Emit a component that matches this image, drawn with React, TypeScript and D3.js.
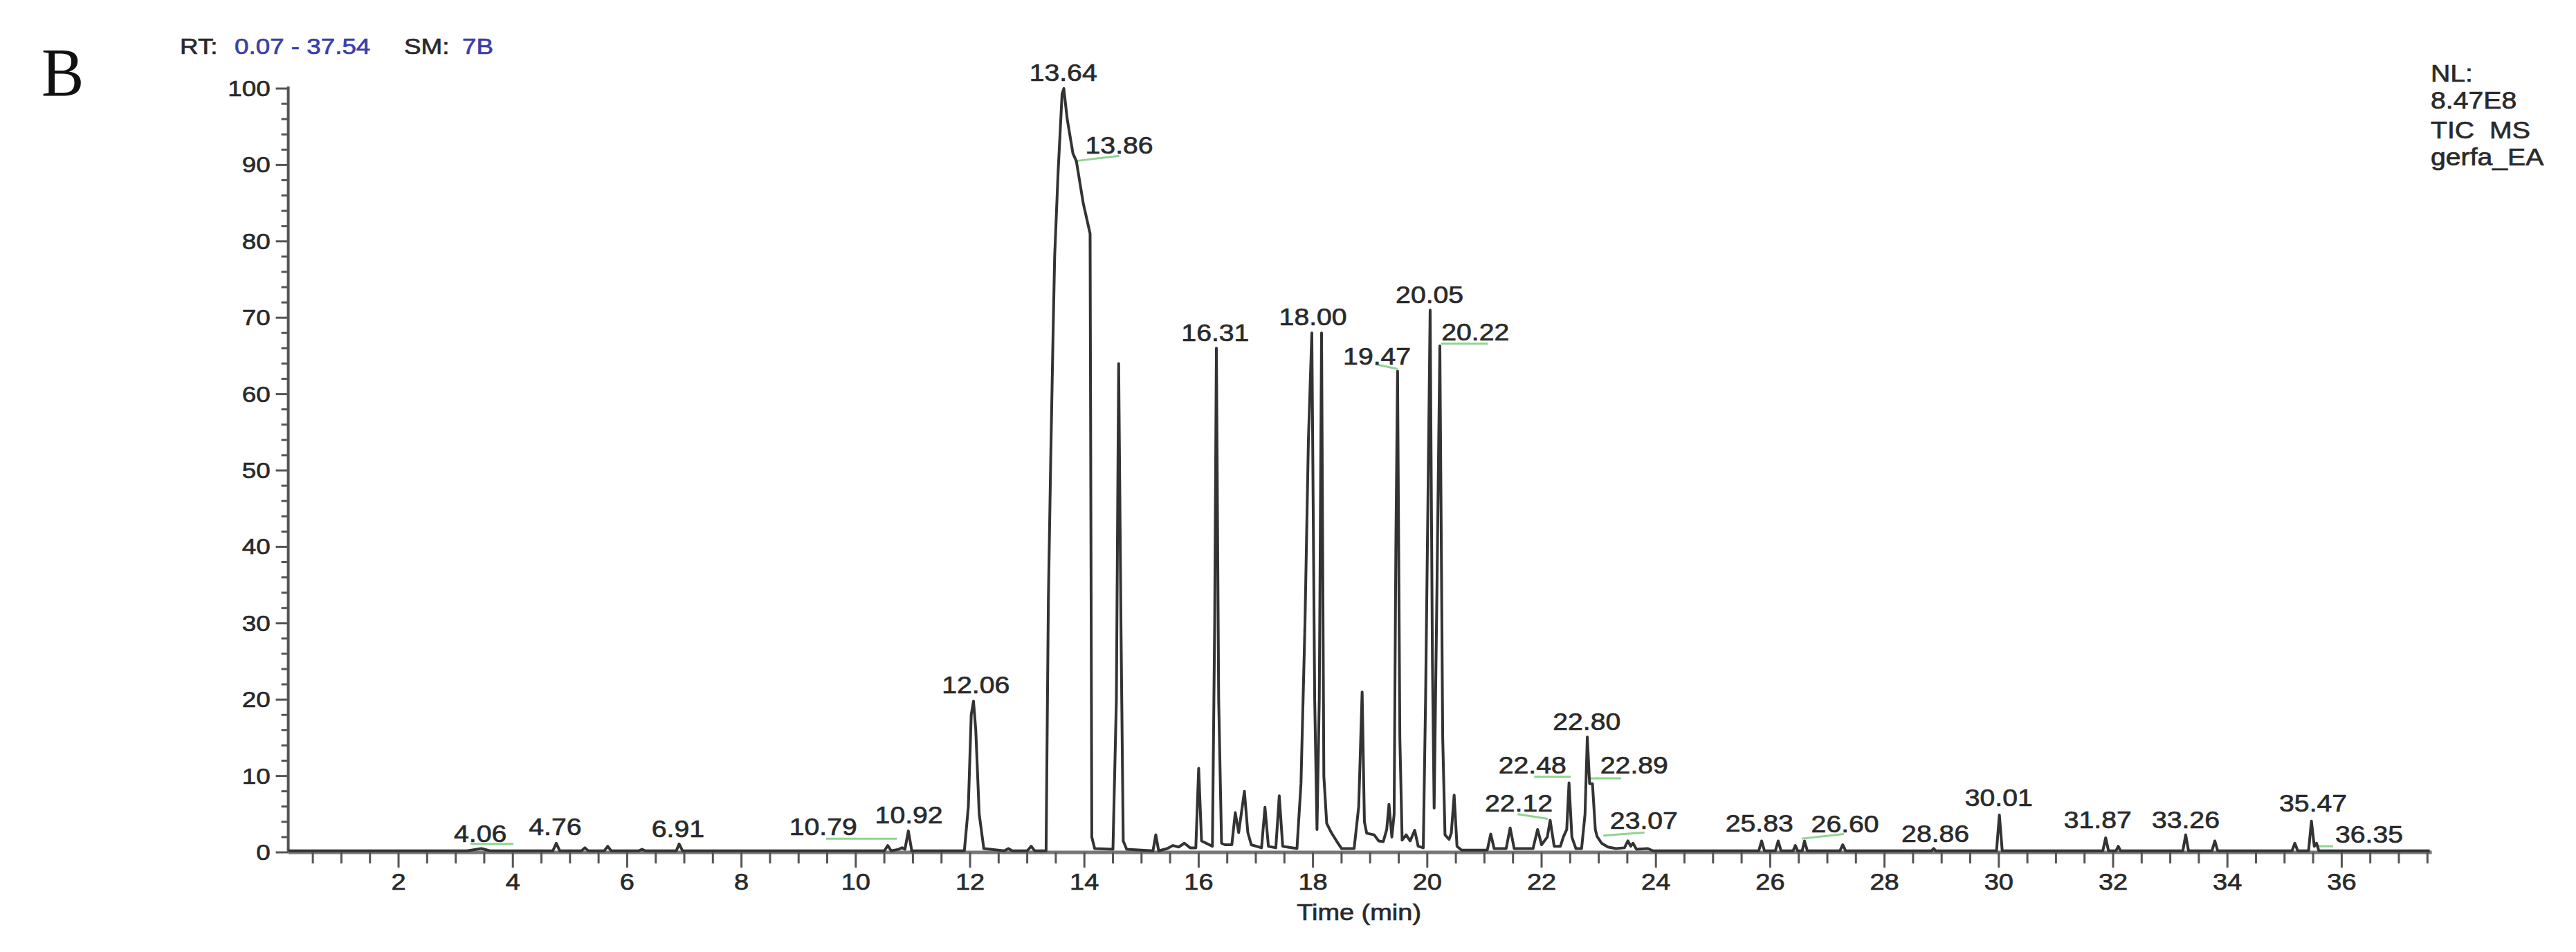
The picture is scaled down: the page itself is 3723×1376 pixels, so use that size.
import React from "react";
import * as d3 from "d3";

// ---------------- DATA ----------------
const rtRange: [number, number] = [0.07, 37.54];
const yTickValues = [0, 10, 20, 30, 40, 50, 60, 70, 80, 90, 100];
const xTickLabels = [2, 4, 6, 8, 10, 12, 14, 16, 18, 20, 22, 24, 26, 28, 30, 32, 34, 36];

// TIC trace: [retention time (min), relative abundance (%)]
const traceEarly: [number, number][] = [
  [0.07, 0.2], [3.2, 0.2], [3.45, 0.5], [3.6, 0.2], [4.7, 0.2], [4.76, 1.2], [4.82, 0.2],
  [5.2, 0.2], [5.26, 0.6], [5.32, 0.2], [5.6, 0.2], [5.66, 0.8], [5.72, 0.2],
  [6.2, 0.2], [6.26, 0.4], [6.32, 0.2], [6.86, 0.2], [6.91, 1.1], [6.97, 0.2],
  [10.5, 0.2], [10.56, 0.9], [10.62, 0.2], [10.75, 0.4], [10.81, 0.6], [10.86, 0.4],
  [10.92, 2.8], [10.98, 0.2],
];
const traceMain: [number, number][] = [
  [11.9, 0.2], [11.97, 6], [12.02, 18], [12.06, 19.8], [12.1, 16], [12.16, 5], [12.24, 0.5],
  [12.6, 0.2], [12.67, 0.5], [12.74, 0.2], [13.0, 0.2], [13.07, 0.8], [13.13, 0.2],
  [13.33, 0.2], [13.37, 33], [13.41, 51], [13.45, 67], [13.48, 78], [13.54, 89],
  [13.61, 99.3], [13.64, 100], [13.7, 96], [13.8, 91.5], [13.86, 90.5], [13.98, 85],
  [14.1, 81], [14.13, 2], [14.18, 0.5],
  [14.5, 0.4], [14.56, 20], [14.6, 64], [14.64, 30], [14.68, 1.5], [14.74, 0.4],
  [15.2, 0.2], [15.25, 2.3], [15.3, 0.2], [15.45, 0.5], [15.55, 0.9], [15.65, 0.7],
  [15.75, 1.2], [15.85, 0.6], [15.95, 0.6], [16.0, 11], [16.05, 1.5],
  [16.24, 0.8], [16.28, 30], [16.31, 66], [16.35, 20], [16.4, 1.2], [16.46, 1.0],
  [16.58, 1.0], [16.64, 5.2], [16.7, 2.6], [16.8, 8], [16.86, 2.6], [16.92, 1.0],
  [17.1, 0.6], [17.16, 5.9], [17.22, 0.8], [17.35, 0.6], [17.41, 7.4], [17.47, 0.8],
  [17.72, 0.5], [17.79, 9], [17.86, 30], [17.92, 54], [17.98, 68], [18.03, 20],
  [18.07, 3], [18.11, 20], [18.15, 68], [18.19, 10], [18.24, 3.8], [18.32, 2.6],
  [18.42, 1.4], [18.5, 0.5],
];
const traceLate: [number, number][] = [
  [18.72, 0.5], [18.8, 6], [18.86, 21], [18.9, 4], [18.94, 2.5], [19.07, 2.3],
  [19.15, 1.5], [19.23, 1.4], [19.29, 3], [19.33, 6.3], [19.38, 2], [19.42, 5],
  [19.45, 40], [19.48, 63], [19.52, 15], [19.56, 1.6], [19.63, 2.3], [19.7, 1.5],
  [19.78, 2.9], [19.84, 0.8], [19.93, 0.6], [19.97, 20], [20.01, 45], [20.05, 71],
  [20.09, 25], [20.12, 5.8], [20.17, 35], [20.22, 66.3], [20.27, 15], [20.31, 2.3],
  [20.38, 1.7], [20.42, 2.5], [20.47, 7.5], [20.52, 0.8], [20.6, 0.3],
  [21.05, 0.3], [21.11, 2.4], [21.17, 0.5], [21.38, 0.5], [21.45, 3.2], [21.52, 0.5],
  [21.85, 0.5], [21.93, 3.0], [22.0, 1.0], [22.1, 2.0], [22.15, 4.2], [22.22, 0.8],
  [22.33, 0.8], [22.38, 2.0], [22.44, 3], [22.48, 9.1], [22.53, 2], [22.6, 0.5],
  [22.7, 0.5], [22.76, 5], [22.8, 15.1], [22.84, 9], [22.89, 9], [22.94, 3],
  [22.97, 2.1], [23.05, 1.2], [23.16, 0.7], [23.3, 0.5], [23.45, 0.6], [23.51, 1.5],
  [23.56, 0.8], [23.6, 1.2], [23.66, 0.4], [23.86, 0.5], [23.95, 0.2],
  [25.8, 0.2], [25.85, 1.5], [25.9, 0.2], [26.09, 0.2], [26.14, 1.5], [26.19, 0.2],
  [26.4, 0.2], [26.44, 0.9], [26.48, 0.2], [26.56, 0.2], [26.6, 1.5], [26.65, 0.2],
  [27.22, 0.2], [27.27, 1.0], [27.32, 0.2], [28.82, 0.2], [28.86, 0.5], [28.9, 0.2],
  [29.96, 0.2], [30.01, 4.9], [30.06, 0.2], [31.82, 0.2], [31.87, 1.9], [31.92, 0.2],
  [32.05, 0.2], [32.09, 0.8], [32.13, 0.2], [33.22, 0.2], [33.27, 2.3], [33.32, 0.2],
  [33.73, 0.2], [33.78, 1.5], [33.83, 0.2], [35.13, 0.2], [35.18, 1.2], [35.23, 0.2],
  [35.42, 0.2], [35.47, 4.1], [35.52, 0.8], [35.56, 1.2], [35.6, 0.2], [37.54, 0.2],
];

// Peak annotations: label text, anchor time, anchor level (baseline of text)
const peakLabels = ["4.06", "4.76", "6.91", "10.79", "10.92", "12.06", "13.64", "13.86", "16.31",
  "18.00", "19.47", "20.05", "20.22", "22.12", "22.48", "22.80", "22.89", "23.07", "25.83",
  "26.60", "28.86", "30.01", "31.87", "33.26", "35.47", "36.35"];
const peakLabelTime = [3.43, 4.74, 6.89, 9.43, 10.93, 12.1, 13.63, 14.61, 16.29,
  18.0, 19.12, 20.04, 20.84, 21.6, 21.84, 22.79, 23.62, 23.79, 25.81,
  27.31, 28.89, 30.0, 31.73, 33.27, 35.5, 36.48];
const peakLabelLevel = [1.4, 2.3, 2.0, 2.3, 3.8, 20.8, 101, 91.5, 66.9,
  69.0, 63.9, 71.9, 67.0, 5.3, 10.3, 16.0, 10.3, 3.1, 2.7,
  2.6, 1.4, 6.1, 3.2, 3.2, 5.3, 1.3];

// Green connector lines between labels and peaks
const connFromTime = [3.26, 9.48, 13.83, 19.09, 20.24, 21.58, 21.87, 22.85, 23.08, 26.55, 35.52];
const connFromLevel = [1.1, 1.8, 90.5, 63.9, 66.6, 5.0, 9.9, 9.7, 2.2, 1.8, 0.8];
const connToTime = [4.01, 10.72, 14.61, 19.48, 21.06, 22.11, 22.51, 23.39, 23.8, 27.29, 35.85];
const connToLevel = [1.1, 1.8, 91.2, 63.3, 66.6, 4.4, 9.9, 9.7, 2.6, 2.4, 0.8];

// ---------------- CHART ----------------
const SANS = "'Liberation Sans', Arial, Helvetica, sans-serif";
const SERIF = "'Liberation Serif', 'Times New Roman', serif";

type TP = { x: number; y: number; size?: number; sx?: number; anchor?: string; fill?: string; family?: string; sw?: number; children: React.ReactNode };
const Txt = ({ x, y, size = 34, sx = 1.15, anchor = "start", fill = "#2a2a2a", family = SANS, sw = 0.7, children }: TP) => (
  <text transform={`translate(${x},${y}) scale(${sx},1)`} fontSize={size} textAnchor={anchor as any}
    fill={fill} stroke={fill} strokeWidth={sw} fontFamily={family}>{children}</text>
);

export default function App() {
  const W = 3723, H = 1376;
  const x = d3.scaleLinear().domain(rtRange).range([416.6, 3511.6]);
  const y = d3.scaleLinear().domain([0, 100]).range([1232, 128]);
  const line = d3.line<[number, number]>().x(d => x(d[0])).y(d => y(d[1]));
  const trace = [...traceEarly, ...traceMain, ...traceLate];

  const minorX = d3.range(0.5, 37.51, 0.5).filter(t => Math.abs(t / 2 - Math.round(t / 2)) > 1e-6);
  const minorY = d3.range(0, 100.1, 2).filter(v => v % 10 !== 0);
  const x0 = x(rtRange[0]);
  const blue = "#3b3fa8";

  return (
    <svg width={W} height={H} style={{ position: "absolute", left: 0, top: 0, background: "#fff" }}>
      <rect width={W} height={H} fill="#fff" />
      {/* panel letter */}
      <Txt x={60} y={138} size={100} sx={0.92} family={SERIF} fill="#111" sw={0}>B</Txt>
      {/* header */}
      <Txt x={260} y={78} size={32}>RT:</Txt>
      <Txt x={339} y={78} size={32} fill={blue}>0.07 - 37.54</Txt>
      <Txt x={584} y={78} size={32}>SM:</Txt>
      <Txt x={668} y={78} size={32} fill={blue}>7B</Txt>
      {/* NL block */}
      <Txt x={3513} y={118} size={35} sx={1.12}>NL:</Txt>
      <Txt x={3513} y={157} size={35} sx={1.12}>8.47E8</Txt>
      <Txt x={3513} y={200} size={35} sx={1.12}>TIC</Txt>
      <Txt x={3598} y={200} size={35} sx={1.12}>MS</Txt>
      <Txt x={3513} y={239} size={35} sx={1.12}>gerfa_EA</Txt>

      {/* y axis */}
      <line x1={x0} x2={x0} y1={y(100) - 3} y2={y(0)} stroke="#555" strokeWidth={4} />
      {yTickValues.map(v => (
        <g key={"yt" + v}>
          <line x1={x0 - 18} x2={x0} y1={y(v)} y2={y(v)} stroke="#555" strokeWidth={3} />
          <Txt x={x0 - 26} y={y(v) + 11} size={32} anchor="end">{v}</Txt>
        </g>
      ))}
      {minorY.map(v => (
        <line key={"ym" + v} x1={x0 - 10} x2={x0} y1={y(v)} y2={y(v)} stroke="#555" strokeWidth={3} />
      ))}

      {/* x axis */}
      <line x1={x0} x2={x(37.54) + 3} y1={y(0)} y2={y(0)} stroke="#777" strokeWidth={5} />
      {minorX.map(t => (
        <line key={"xm" + t} x1={x(t)} x2={x(t)} y1={y(0)} y2={y(0) + 16} stroke="#555" strokeWidth={3} />
      ))}
      {xTickLabels.map(t => (
        <g key={"xt" + t}>
          <line x1={x(t)} x2={x(t)} y1={y(0)} y2={y(0) + 22} stroke="#555" strokeWidth={3} />
          <Txt x={x(t)} y={1286} size={33} anchor="middle">{t}</Txt>
        </g>
      ))}
      <Txt x={(x0 + x(37.54)) / 2} y={1330} size={33} anchor="middle">Time (min)</Txt>

      {/* connectors */}
      {connFromTime.map((t, i) => (
        <line key={"c" + i} x1={x(t)} y1={y(connFromLevel[i])} x2={x(connToTime[i])} y2={y(connToLevel[i])}
          stroke="#8fd48f" strokeWidth={3} />
      ))}

      {/* trace */}
      <path d={line(trace) || ""} fill="none" stroke="#333" strokeWidth={4} strokeLinejoin="round" />

      {/* peak labels */}
      {peakLabels.map((s, i) => (
        <Txt key={"pl" + i} x={x(peakLabelTime[i])} y={y(peakLabelLevel[i])} size={35} sx={1.12} anchor="middle">{s}</Txt>
      ))}
    </svg>
  );
}
